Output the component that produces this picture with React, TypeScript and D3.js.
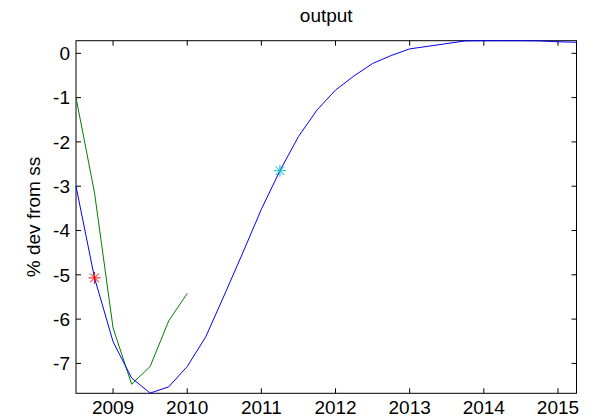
import React from "react";
import * as d3 from "d3";

const quarters = [
  2008.5, 2008.75, 2009.0, 2009.25, 2009.5, 2009.75, 2010.0, 2010.25, 2010.5, 2010.75,
  2011.0, 2011.25, 2011.5, 2011.75, 2012.0, 2012.25, 2012.5, 2012.75, 2013.0, 2013.25,
  2013.5, 2013.75, 2014.0, 2014.25, 2014.5, 2014.75, 2015.0, 2015.25,
];
const outputPath = [
  -3.0, -5.07, -6.51, -7.33, -7.67, -7.53, -7.07, -6.4, -5.46, -4.5,
  -3.52, -2.65, -1.88, -1.28, -0.83, -0.51, -0.23, -0.05, 0.1, 0.16,
  0.22, 0.28, 0.285, 0.285, 0.285, 0.28, 0.26, 0.25,
];
const actualQuarters = [2008.5, 2008.75, 2009.0, 2009.25, 2009.5, 2009.75, 2010.0];
const actualPath = [-1.0, -3.15, -6.2, -7.47, -7.07, -6.04, -5.42];
const redMarker = [{ x: 2008.75, y: -5.07 }];
const cyanMarker = [{ x: 2011.25, y: -2.65 }];
const xTicks = [2009, 2010, 2011, 2012, 2013, 2014, 2015];
const yTicks = [-7, -6, -5, -4, -3, -2, -1, 0];
const xLimits = [2008.5, 2015.25];
const yLimits = [-7.675, 0.285];

const W = 596;
const H = 419;
const left = 76;
const right = 576.5;
const top = 40.7;
const bottom = 393.3;
const font = "'Liberation Sans', Arial, Helvetica, sans-serif";
const fs = 19;
const tickLen = 5;

function Star({ cx, cy, color }: { cx: number; cy: number; color: string }) {
  const r = 6;
  const d = r * 0.72;
  return (
    <g stroke={color} strokeWidth={1}>
      <line x1={cx - r} y1={cy} x2={cx + r} y2={cy} />
      <line x1={cx} y1={cy - r} x2={cx} y2={cy + r} />
      <line x1={cx - d} y1={cy - d} x2={cx + d} y2={cy + d} />
      <line x1={cx - d} y1={cy + d} x2={cx + d} y2={cy - d} />
    </g>
  );
}

export default function App() {
  const x = d3.scaleLinear().domain(xLimits).range([left, right]);
  const y = d3.scaleLinear().domain(yLimits).range([bottom, top]);
  const line = d3
    .line<[number, number]>()
    .x((d) => x(d[0]))
    .y((d) => y(d[1]));
  const bluePts = quarters.map((q, i) => [q, outputPath[i]] as [number, number]);
  const greenPts = actualQuarters.map((q, i) => [q, actualPath[i]] as [number, number]);

  return (
    <div style={{ position: "absolute", left: 0, top: 0 }}>
      <svg width={W} height={H} style={{ display: "block", background: "#fff" }}>
        <rect x={0} y={0} width={W} height={H} fill="#fff" />
        <text x={(left + right) / 2} y={22} textAnchor="middle" fontFamily={font} fontSize={fs}>
          output
        </text>
        <text
          transform={`translate(40, ${(top + bottom) / 2}) rotate(-90)`}
          textAnchor="middle"
          fontFamily={font}
          fontSize={fs}
        >
          % dev from ss
        </text>
        {xTicks.map((t) => (
          <g key={"x" + t}>
            <line x1={x(t)} x2={x(t)} y1={bottom} y2={bottom - tickLen} stroke="#000" />
            <line x1={x(t)} x2={x(t)} y1={top} y2={top + tickLen} stroke="#000" />
            <text x={x(t)} y={413.5} textAnchor="middle" fontFamily={font} fontSize={fs}>
              {t}
            </text>
          </g>
        ))}
        {yTicks.map((t) => (
          <g key={"y" + t}>
            <line x1={left} x2={left + tickLen} y1={y(t)} y2={y(t)} stroke="#000" />
            <line x1={right} x2={right - tickLen} y1={y(t)} y2={y(t)} stroke="#000" />
            <text x={70} y={y(t)} dy="0.36em" textAnchor="end" fontFamily={font} fontSize={fs}>
              {t}
            </text>
          </g>
        ))}
        <rect x={left} y={top} width={right - left} height={bottom - top} fill="none" stroke="#000" strokeWidth={1} />
        <path d={line(greenPts) || ""} fill="none" stroke="#008000" strokeWidth={1} />
        <path d={line(bluePts) || ""} fill="none" stroke="#0000ff" strokeWidth={1} />
        {redMarker.map((m, i) => (
          <Star key={"r" + i} cx={x(m.x)} cy={y(m.y)} color="#ff0000" />
        ))}
        {cyanMarker.map((m, i) => (
          <Star key={"c" + i} cx={x(m.x)} cy={y(m.y)} color="#00bfbf" />
        ))}
      </svg>
    </div>
  );
}
